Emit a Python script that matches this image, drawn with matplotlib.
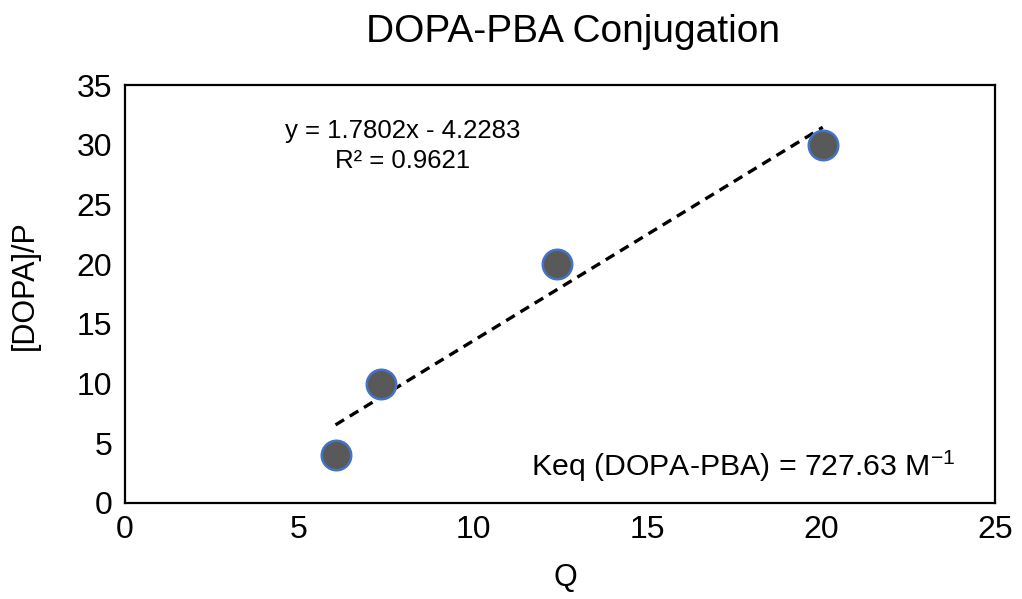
import matplotlib
matplotlib.use("Agg")
import matplotlib.pyplot as plt
import numpy as np

plt.rcParams['font.family'] = ['Liberation Sans', 'DejaVu Sans']

q_values = [6.05, 7.35, 12.4, 20.05]
dopa_p = [4, 10, 20, 30]
slope = 1.7802
intercept = -4.2283
r2 = 0.9621
keq = 727.63
x_ticks = [0, 5, 10, 15, 20, 25]
y_ticks = [0, 5, 10, 15, 20, 25, 30, 35]

fig = plt.figure(figsize=(10.22, 5.99), dpi=100)
ax = fig.add_axes([0.1223, 0.1603, 0.8513, 0.6977])

xl = np.array([min(q_values), max(q_values)])
ax.plot(xl, slope * xl + intercept, linestyle=(0, (3, 2)), color='black', lw=2.4, zorder=2)
ax.scatter(q_values, dopa_p, s=450, color='#595959', edgecolors='#4472C4', linewidths=1.8, zorder=3)

ax.set_xlim(0, 25)
ax.set_ylim(0, 35)
ax.set_xticks(x_ticks)
ax.set_yticks(y_ticks)
ax.tick_params(length=0, labelsize=23, pad=9, colors='black')
for s in ax.spines.values():
    s.set_color('black')
    s.set_linewidth(1.6)

fig.text(573/1022, 1 - 32/599, 'DOPA-PBA Conjugation', ha='center', va='center', fontsize=28)
fig.text(565/1022, 1 - 578/599, 'Q', ha='center', va='center', fontsize=22)
fig.text(25/1022, 1 - 285/599, '[DOPA]/P', ha='center', va='center', rotation=90, fontsize=22)

ax.text(403/1022, 1 - 146/599, f'y = {slope}x - {abs(intercept)}\nR² = {r2}', transform=fig.transFigure,
        ha='center', va='center', fontsize=18.5, linespacing=1.3)
ax.text(531/1022, 1 - 466/599, f'Keq (DOPA-PBA) = {keq} M$^{{\\mathregular{{-1}}}}$', transform=fig.transFigure,
        ha='left', va='center', fontsize=21.8)

fig.savefig('out.png', dpi=100)
